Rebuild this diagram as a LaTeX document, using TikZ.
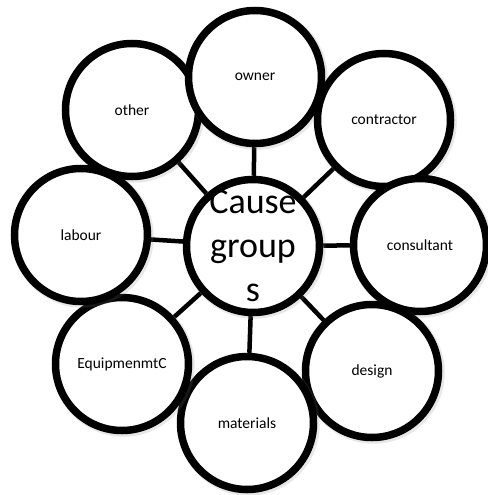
\documentclass[tikz,border=0pt]{standalone}
\usepackage{fontspec}
\setmainfont{Carlito}
\usetikzlibrary{backgrounds,shadows}

\begin{document}
\begin{tikzpicture}[x=1pt,y=-1pt,
		cause/.style={draw,circle,fill=white,line width=7.5pt,minimum size=133pt,inner sep=0pt,
			drop shadow={shadow xshift=1.5pt,shadow yshift=-1.5pt,shadow scale=1.07,opacity=0.18},
			font=\fontsize{15.5}{18}\selectfont},
		spoke/.style={line width=4.5pt}]
		\useasboundingbox (0,0) rectangle (487,495);
		\node[cause] (hub) at (253,246) {};
		\node[font=\fontsize{36}{44}\selectfont,align=center] (hubtext) at (hub) {Cause\\group\\s};
%
		\node[cause] (other) at (132,110) {other};
		\node[cause] (owner) at (255,77) {owner};
		\node[cause] (contractor) at (384,120) {contractor};
		\node[cause] (consultant) at (420,245) {consultant};
		\node[cause] (design) at (372,371) {design};
		\node[cause] (materials) at (247,423) {materials};
		\node[cause] (equipment) at (122,364) {EquipmenmtC};
		\node[cause] (labour) at (81,235) {labour};
%
		\begin{scope}[on background layer]
		\path[spoke]
			(hub) edge (other)
			(hub) edge (owner)
			(hub) edge (contractor)
			(hub) edge (consultant)
			(hub) edge (design)
			(hub) edge (materials)
			(hub) edge (equipment)
			(hub) edge (labour);
		\end{scope}
	\end{tikzpicture}
\end{document}
